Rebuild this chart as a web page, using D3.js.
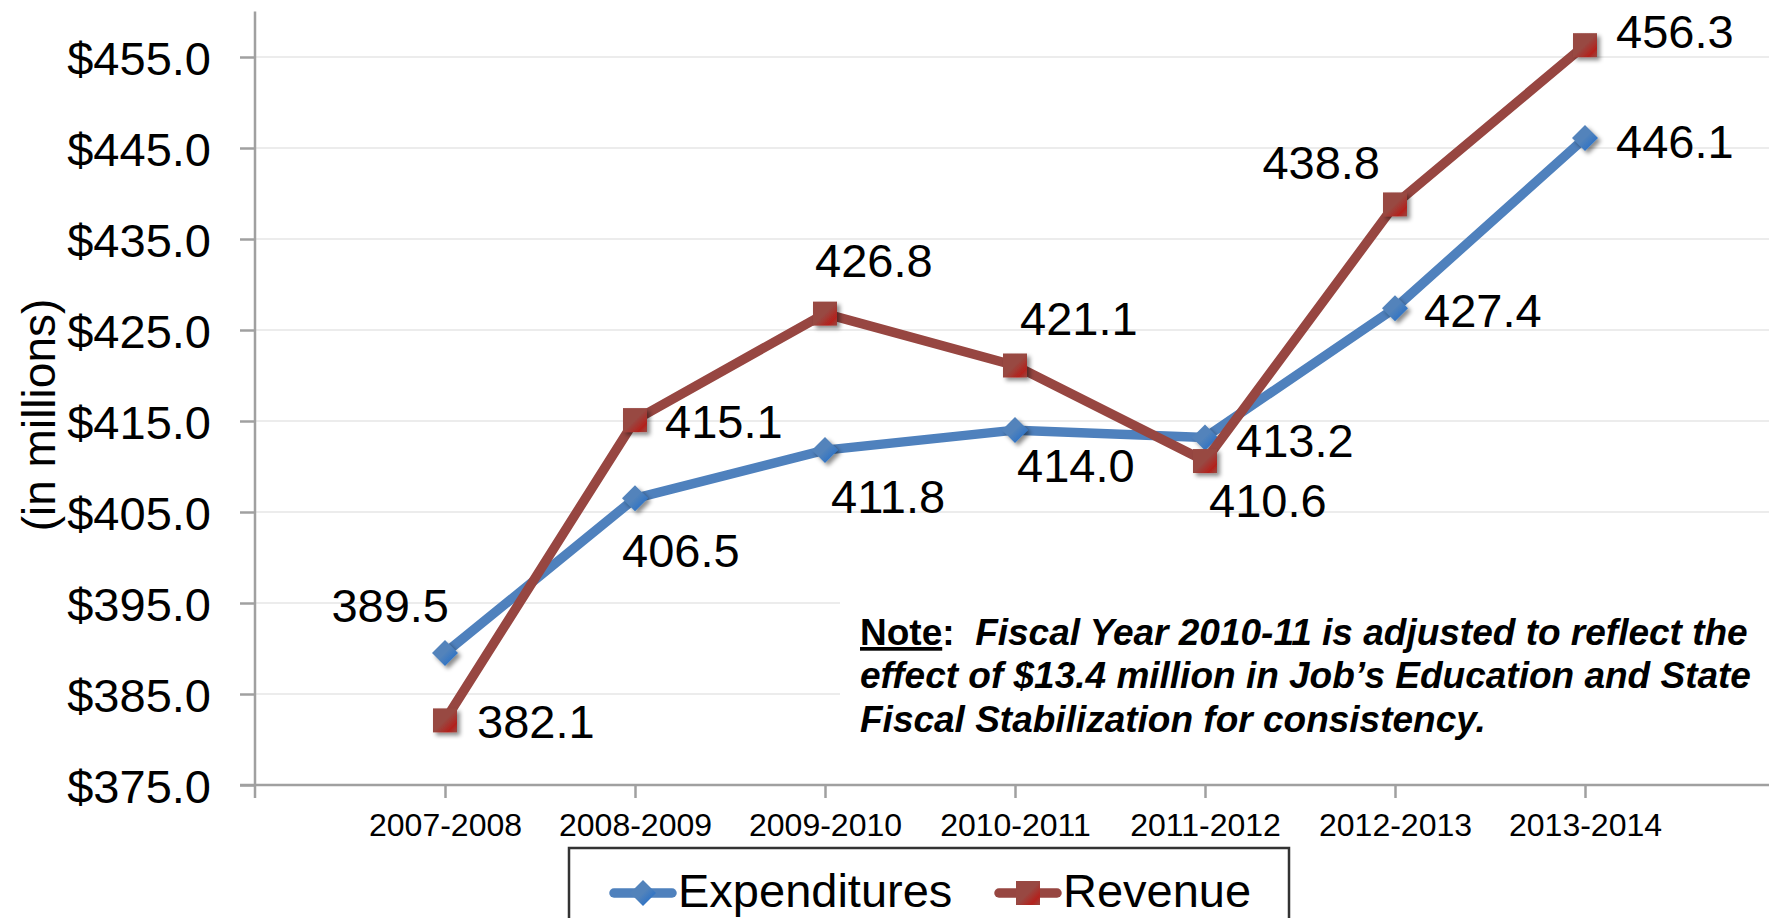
<!DOCTYPE html>
<meta charset="utf-8">
<head>
<style>
body { margin: 0; background: #fff; }
text { font-family: "Liberation Sans", Arial, sans-serif; fill: #000; }
.grid line { stroke: #ececec; stroke-width: 2; }
.axis path, .axis line { stroke: #a0a0a0; stroke-width: 2.5; fill: none; }
.ylabel { font-size: 47px; }
.xlabel { font-size: 32px; }
.dlabel { font-size: 47px; }
.note { font-size: 37px; font-weight: bold; font-style: italic; white-space: pre; }
</style>
</head>
<body>
<svg width="1769" height="918"></svg>
<script src="https://d3js.org/d3.v7.min.js"></script>
<script>

// data
var categories = ["2007-2008", "2008-2009", "2009-2010", "2010-2011", "2011-2012", "2012-2013", "2013-2014"];
var expenditures = [389.5, 406.5, 411.8, 414.0, 413.2, 427.4, 446.1];
var revenue = [382.1, 415.1, 426.8, 421.1, 410.6, 438.8, 456.3];
var yTicks = [375, 385, 395, 405, 415, 425, 435, 445, 455];
var seriesNames = ["Expenditures", "Revenue"];
var noteLines = [
  "Fiscal Year 2010-11 is adjusted to reflect the",
  "effect of $13.4 million in Job\u2019s Education and State",
  "Fiscal Stabilization for consistency."
];

// label nudges (the labels were hand placed in the original)
var expLabelPos = [["end", 4, -31], ["start", -13, 69], ["start", 6, 63], ["start", 2, 52], ["start", 31, 20], ["start", 29, 19], ["start", 31, 20]];
var revLabelPos = [["start", 32, 18], ["start", 30, 18], ["start", -10, -37], ["start", 5, -30], ["start", 4, 56], ["end", -15, -25], ["start", 31, 3]];

var svg = d3.select("svg");

var x = d3.scalePoint().domain(categories).range([255, 1775]).padding(1);
var y = d3.scaleLinear().domain([375, 460]).range([785, 11.5]);

var defs = svg.append("defs");
var f = defs.append("filter").attr("id", "shadow").attr("x", "-50%").attr("y", "-50%").attr("width", "200%").attr("height", "200%");
f.append("feDropShadow").attr("dx", 3).attr("dy", 3).attr("stdDeviation", 2).attr("flood-color", "#000").attr("flood-opacity", 0.45);

function grad(id, base, hi) {
  var g = defs.append("linearGradient").attr("id", id).attr("x1", 0).attr("y1", 0).attr("x2", 1).attr("y2", 1);
  g.append("stop").attr("offset", "0").attr("stop-color", base);
  g.append("stop").attr("offset", "0.5").attr("stop-color", base);
  g.append("stop").attr("offset", "0.8").attr("stop-color", hi);
  g.append("stop").attr("offset", "1").attr("stop-color", base);
}
grad("gBlue", "#5283bb", "#2d72c6");
grad("gRed", "#984842", "#b3221d");

var colors = { Expenditures: "#4f81bd", Revenue: "#974641" };

// gridlines
svg.append("g").attr("class", "grid")
  .selectAll("line").data(yTicks.slice(1)).enter().append("line")
    .attr("x1", 255).attr("x2", 1769)
    .attr("y1", function(d) { return y(d); })
    .attr("y2", function(d) { return y(d); });

// note box covers the gridlines
svg.append("rect").attr("x", 840).attr("y", 548).attr("width", 929).attr("height", 225).attr("fill", "#fff");

// y axis
var yAxis = svg.append("g").attr("class", "axis")
  .attr("transform", "translate(255,0)")
  .call(d3.axisLeft(y).tickValues(yTicks).tickSize(15).tickSizeOuter(0).tickFormat(function(d) { return "$" + d3.format(".1f")(d); }));
yAxis.select(".domain").remove();
yAxis.append("line").attr("x1", 0).attr("x2", 0).attr("y1", y(460)).attr("y2", 798);
yAxis.selectAll("text").attr("class", "ylabel").attr("x", -44).attr("dy", null).attr("y", 17).style("fill", "#000");

// x axis
var xAxis = svg.append("g").attr("class", "axis")
  .attr("transform", "translate(0,785)")
  .call(d3.axisBottom(x).tickSize(13).tickSizeOuter(0));
xAxis.select(".domain").remove();
xAxis.append("line").attr("x1", 240).attr("x2", 1769).attr("y1", 0).attr("y2", 0);
xAxis.selectAll("text").attr("class", "xlabel").attr("y", 51).attr("dy", null).style("fill", "#000");

// y title
svg.append("text")
  .attr("transform", "translate(55,415) rotate(-90)")
  .attr("text-anchor", "middle")
  .style("font-size", "46px")
  .text("(in millions)");

// lines
var line = d3.line().x(function(d, i) { return x(categories[i]); }).y(function(d) { return y(d); });

function drawSeries(values, name, shape, fillId, labelPos) {
  svg.append("path").datum(values)
    .attr("d", line)
    .attr("fill", "none")
    .attr("stroke", colors[name])
    .attr("stroke-width", 9.5)
    .attr("stroke-linejoin", "round");

  svg.append("g").selectAll("path").data(values).enter().append("path")
    .attr("transform", function(d, i) { return "translate(" + x(categories[i]) + "," + y(d) + ")"; })
    .attr("d", shape)
    .attr("fill", "url(#" + fillId + ")")
    .attr("filter", "url(#shadow)");

  svg.append("g").selectAll("text").data(values).enter().append("text")
    .attr("class", "dlabel")
    .attr("text-anchor", function(d, i) { return labelPos[i][0]; })
    .attr("x", function(d, i) { return x(categories[i]) + labelPos[i][1]; })
    .attr("y", function(d, i) { return y(d) + labelPos[i][2]; })
    .text(function(d) { return d3.format(".1f")(d); });
}

var diamond = "M0,-13L13,0L0,13L-13,0Z";
var square = "M-12,-12H12V12H-12Z";

drawSeries(expenditures, "Expenditures", diamond, "gBlue", expLabelPos);
drawSeries(revenue, "Revenue", square, "gRed", revLabelPos);

// note
var note = svg.append("g").attr("transform", "translate(860,645)");
var l1 = note.append("text").attr("class", "note");
l1.append("tspan").style("font-style", "normal").style("text-decoration", "underline").text("Note");
l1.append("tspan").style("font-style", "normal").text(":\u00a0\u00a0");
l1.append("tspan").text(noteLines[0]);
note.append("text").attr("class", "note").attr("y", 43).text(noteLines[1]);
note.append("text").attr("class", "note").attr("y", 87).text(noteLines[2]);

// legend
var legend = svg.append("g");
legend.append("rect").attr("x", 569).attr("y", 848).attr("width", 720).attr("height", 90)
  .attr("fill", "#fff").attr("stroke", "#333").attr("stroke-width", 2.5);

var legendItems = [
  { name: seriesNames[0], x0: 614, shape: diamond, fill: "gBlue" },
  { name: seriesNames[1], x0: 999, shape: square, fill: "gRed" }
];
var li = legend.selectAll(".li").data(legendItems).enter().append("g")
  .attr("transform", function(d) { return "translate(" + d.x0 + ",893)"; });
li.append("line").attr("x1", 0).attr("x2", 58).attr("y1", 0).attr("y2", 0)
  .attr("stroke", function(d) { return colors[d.name]; })
  .attr("stroke-width", 9.5).attr("stroke-linecap", "round");
li.append("path").attr("transform", "translate(29,0)")
  .attr("d", function(d) { return d.shape; })
  .attr("fill", function(d) { return "url(#" + d.fill + ")"; });
li.append("text").attr("x", 64).attr("y", 14).style("font-size", "47px")
  .text(function(d) { return d.name; });

</script>
</body>
</html>
